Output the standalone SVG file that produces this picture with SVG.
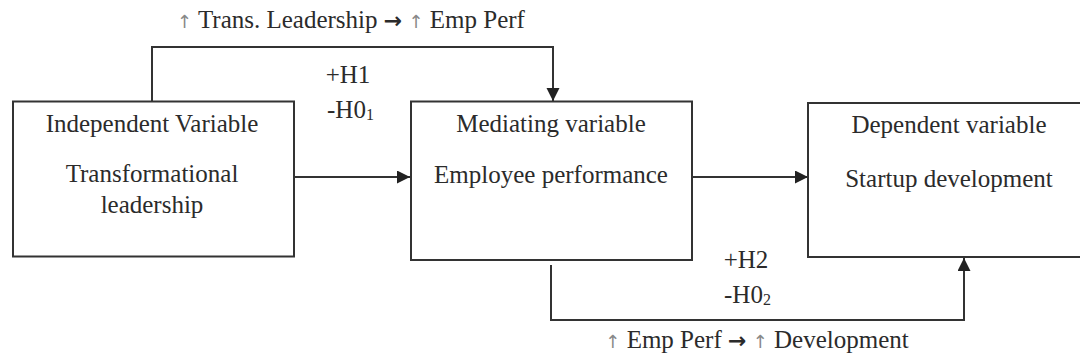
<svg xmlns="http://www.w3.org/2000/svg" width="1080" height="362" viewBox="0 0 1080 362">
<style>
  .box { fill: #ffffff; stroke: #333333; stroke-width: 2; }
  .conn { fill: none; stroke: #333333; stroke-width: 2; }
  .t { font-family: 'Liberation Serif', 'DejaVu Serif', serif; font-size: 25px; fill: #2b2b2b; }
  .mid { text-anchor: middle; }
  .sub { font-size: 16px; }
  .arr { font-family: 'DejaVu Sans', sans-serif; font-size: 18px; fill: #888888; }
  .bigarr { font-family: 'DejaVu Sans', sans-serif; font-size: 22px; font-weight: bold; fill: #2b2b2b; }
</style>
<defs>
  <marker id="ah" markerUnits="userSpaceOnUse" markerWidth="14" markerHeight="14" refX="13" refY="6.5" orient="auto">
    <path d="M0,0 L13,6.5 L0,13 Z" fill="#222222"/>
  </marker>
</defs>
<rect width="1080" height="362" fill="#ffffff"/>
<g id="connectors">
  <path class="conn" d="M152,101 V47 H553 V101" marker-end="url(#ah)"/>
  <path class="conn" d="M294,177 H410" marker-end="url(#ah)"/>
  <path class="conn" d="M692,177 H808" marker-end="url(#ah)"/>
  <path class="conn" d="M551,265 V320 H964 V258" marker-end="url(#ah)"/>
  <text class="t mid" x="351" y="28"><tspan class="arr">↑</tspan> Trans. Leadership <tspan class="bigarr">→</tspan> <tspan class="arr">↑</tspan> Emp Perf</text>
  <text class="t mid" x="348" y="83">+H1</text>
  <text class="t" x="327" y="118">-H0<tspan class="sub" dy="2">1</tspan></text>
  <text class="t mid" x="746" y="268">+H2</text>
  <text class="t" x="724" y="303">-H0<tspan class="sub" dy="2">2</tspan></text>
  <text class="t mid" x="757" y="348"><tspan class="arr">↑</tspan> Emp Perf <tspan class="bigarr">→</tspan> <tspan class="arr">↑</tspan> Development</text>
</g>
<g id="independent">
  <rect class="box" x="13" y="101.5" width="281" height="155"/>
  <text class="t mid" x="152" y="132">Independent Variable</text>
  <text class="t mid" x="152" y="182">Transformational</text>
  <text class="t mid" x="152" y="213">leadership</text>
</g>
<g id="mediating">
  <rect class="box" x="411" y="101.5" width="281" height="158.5"/>
  <text class="t mid" x="551" y="132">Mediating variable</text>
  <text class="t mid" x="551" y="183">Employee performance</text>
</g>
<g id="dependent">
  <rect class="box" x="808" y="103" width="290" height="154"/>
  <text class="t mid" x="949" y="133">Dependent variable</text>
  <text class="t mid" x="949" y="187">Startup development</text>
</g>
</svg>
